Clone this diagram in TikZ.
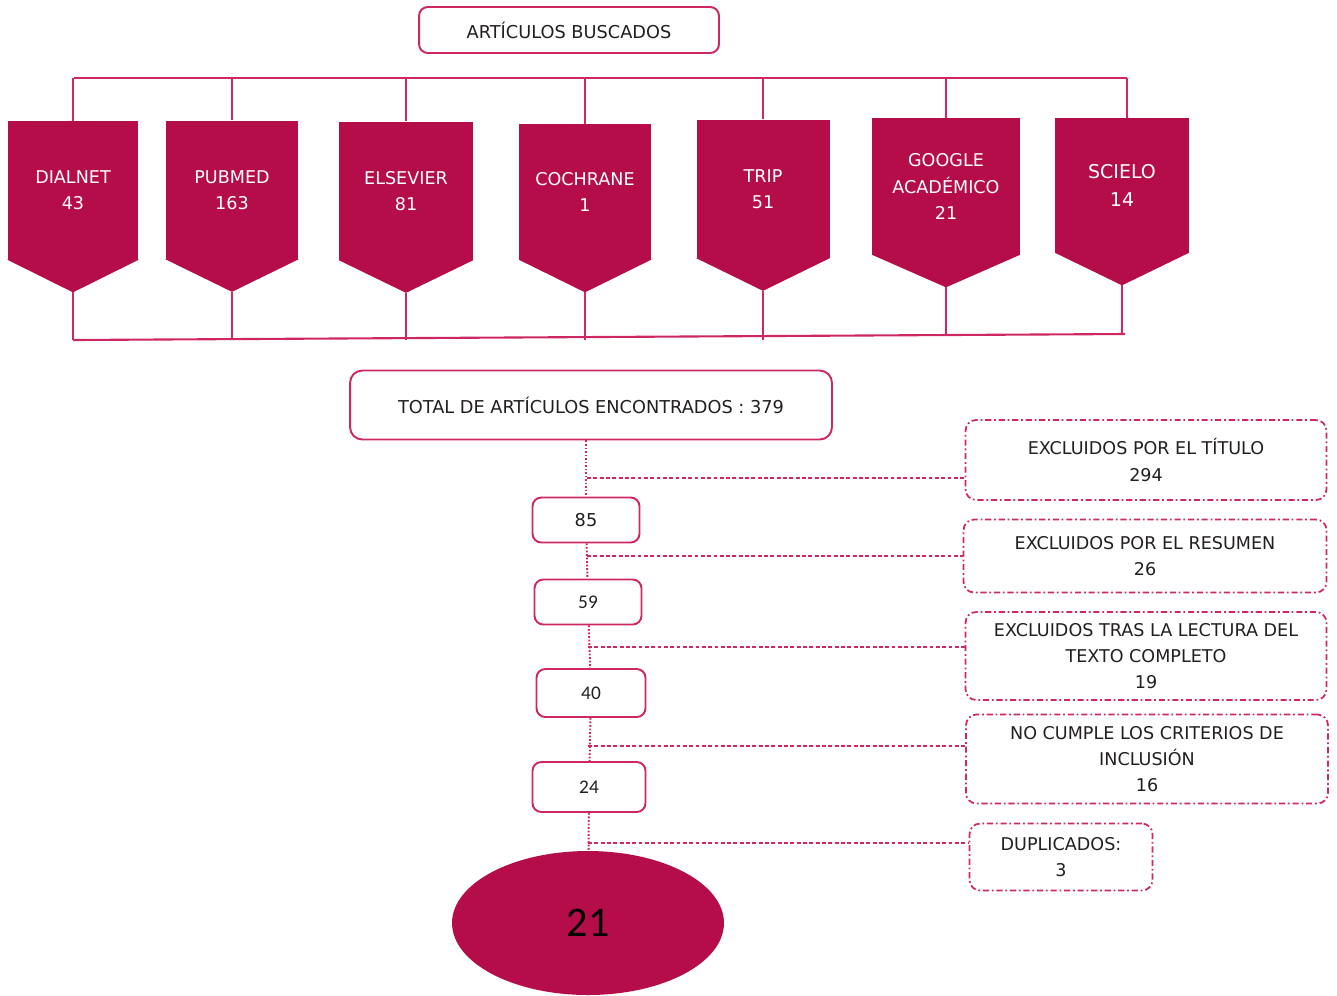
\documentclass[tikz,border=0pt]{standalone}
\usepackage{fontspec}
\setmainfont{DejaVu Sans}
\newfontfamily\calfont{Carlito}
\usepackage{tikz}
\usetikzlibrary{shapes.geometric, positioning}
\definecolor{revmagenta}{RGB}{181, 13, 74}
\definecolor{revline}{RGB}{206, 40, 100}
\definecolor{revtext}{RGB}{35, 31, 32}

\begin{document}
\begin{tikzpicture}[
    x=0.02cm, y=-0.02cm,
    % boxes
    basebox/.style={rectangle, rounded corners=5pt, draw=revline, line width=1.1pt, fill=white, text=revtext, align=center, font=\fontsize{10.1}{15}\selectfont, inner sep=2pt},
    srcbox/.style={rectangle, fill=revmagenta, text=white, align=center, minimum width=2.66cm, minimum height=2.78cm, inner sep=0pt, font=\fontsize{10}{15}\selectfont,
      append after command={\pgfextra{
        \fill[revmagenta] ([yshift=0.4pt]\tikzlastnode.south west) -- ([yshift=0.4pt]\tikzlastnode.south east) -- ([yshift=-0.64cm]\tikzlastnode.south) -- cycle;
        \coordinate (\tikzlastnode-tip) at ([yshift=-0.64cm]\tikzlastnode.south);}}},
    countbox/.style={basebox, minimum width=2.14cm, minimum height=0.9cm},
    exclbox/.style={rectangle, rounded corners=6pt, draw=revline, line width=1pt, dash pattern=on 3.5pt off 1.6pt on 1pt off 1.6pt, text=revtext, align=center, minimum width=7.22cm, font=\fontsize{10}{15}\selectfont},
    bus/.style={draw=revline, line width=1.2pt},
    flow/.style={draw=revline, line width=1.1pt, dash pattern=on 1pt off 1pt},
    excl/.style={draw=revline, line width=1.1pt, dash pattern=on 2.2pt off 1.4pt}
  ]
  \useasboundingbox (0,0) rectangle (1337,995);

  \node[basebox, minimum width=6cm, minimum height=0.92cm] (buscados) at (569,30) {ARTÍCULOS BUSCADOS};

  % bases de datos
  \node[srcbox, minimum width=2.62cm] (dialnet) at (73,190.5) {DIALNET\\43};
  \node[srcbox] (pubmed) at (232,190) {PUBMED\\163};
  \node[srcbox, minimum width=2.68cm] (elsevier) at (406,191) {ELSEVIER\\81};
  \node[srcbox, minimum width=2.64cm, minimum height=2.72cm] (cochrane) at (585,192) {COCHRANE\\1};
  \node[srcbox] (trip) at (763,189) {TRIP\\51};
  \node[srcbox, minimum width=2.96cm, minimum height=2.74cm] (google) at (946,186.5) {GOOGLE\\ACADÉMICO\\21};
  \node[srcbox, minimum width=2.68cm, minimum height=2.7cm, font=\fontsize{10.8}{16}\selectfont] (scielo) at (1122,185.5) {SCIELO\\14};

  \coordinate (topL) at (74,78);
  \coordinate (topR) at (1127,78);
  \coordinate (botL) at (73,340);
  \coordinate (botR) at (1125,334);

  \draw[bus] (topL) -- (topR);
  \draw[bus] (dialnet.north) -- (dialnet.north |- topL);
  \draw[bus] (pubmed.north) -- (pubmed.north |- topL);
  \draw[bus] (elsevier.north) -- (elsevier.north |- topL);
  \draw[bus] (cochrane.north) -- (cochrane.north |- topL);
  \draw[bus] (trip.north) -- (trip.north |- topL);
  \draw[bus] (google.north) -- (google.north |- topL);
  \draw[bus] ([xshift=0.1cm]scielo.north) -- ([xshift=0.1cm]scielo.north |- topL);

  \draw[bus] (botL) -- (botR);
  \draw[bus] (dialnet-tip) -- (dialnet-tip |- botL);
  \draw[bus] (pubmed-tip) -- (pubmed-tip |- botL);
  \draw[bus] (elsevier-tip) -- (elsevier-tip |- botL);
  \draw[bus] (cochrane-tip) -- (cochrane-tip |- botL);
  \draw[bus] (trip-tip) -- (trip-tip |- botL);
  \draw[bus] (google-tip) -- (google-tip |- botR);
  \draw[bus] (scielo-tip) -- (scielo-tip |- botR);

  % cribado
  \node[basebox, minimum width=9.64cm, minimum height=1.38cm, rounded corners=7pt] (total) at (591,405) {TOTAL DE ARTÍCULOS ENCONTRADOS : 379};
  \node[countbox] (n85) at (586,520) {85};
  \node[countbox, font=\calfont\fontsize{11}{13}\selectfont] (n59) at (588,602) {59};
  \node[countbox, minimum width=2.18cm, minimum height=0.96cm, font=\calfont\fontsize{11}{13}\selectfont] (n40) at (591,693) {40};
  \node[countbox, minimum width=2.26cm, minimum height=1cm, font=\calfont\fontsize{11}{13}\selectfont] (n24) at (589,787) {24};
  \node[ellipse, fill=revmagenta, minimum width=5.44cm, minimum height=2.88cm, font=\calfont\fontsize{24}{28}\selectfont, text=black] (final) at (588,923) {21};

  \node[exclbox, minimum height=1.6cm] (titulo) at (1146,460) {EXCLUIDOS POR EL TÍTULO\\294};
  \node[exclbox, minimum height=1.46cm, minimum width=7.26cm] (resumen) at (1145,556) {EXCLUIDOS POR EL RESUMEN\\26};
  \node[exclbox, minimum height=1.76cm] (lectura) at (1146,656) {EXCLUIDOS TRAS LA LECTURA DEL\\TEXTO COMPLETO\\19};
  \node[exclbox, minimum height=1.78cm, minimum width=7.24cm] (criterios) at (1147,759) {NO CUMPLE LOS CRITERIOS DE\\INCLUSIÓN\\16};
  \node[exclbox, minimum height=1.34cm, minimum width=3.66cm] (duplicados) at (1061,857) {DUPLICADOS:\\3};

  \draw[flow] (total.south -| n85.north) -- (n85.north);
  \draw[flow] (n85) -- (n59);
  \draw[flow] (n59) -- (n40);
  \draw[flow] (n40) -- (n24);
  \draw[flow] (n24) -- (final);

  \coordinate (j1) at (587,478);
  \coordinate (j2) at (587,556);
  \coordinate (j3) at (588,647);
  \coordinate (j4) at (588,746);
  \coordinate (j5) at (588,843);

  \draw[excl] (j1) -- (j1 -| titulo.west);
  \draw[excl] (j2) -- (j2 -| resumen.west);
  \draw[excl] (j3) -- (j3 -| lectura.west);
  \draw[excl] (j4) -- (j4 -| criterios.west);
  \draw[excl] (j5) -- (j5 -| duplicados.west);
\end{tikzpicture}
\end{document}
